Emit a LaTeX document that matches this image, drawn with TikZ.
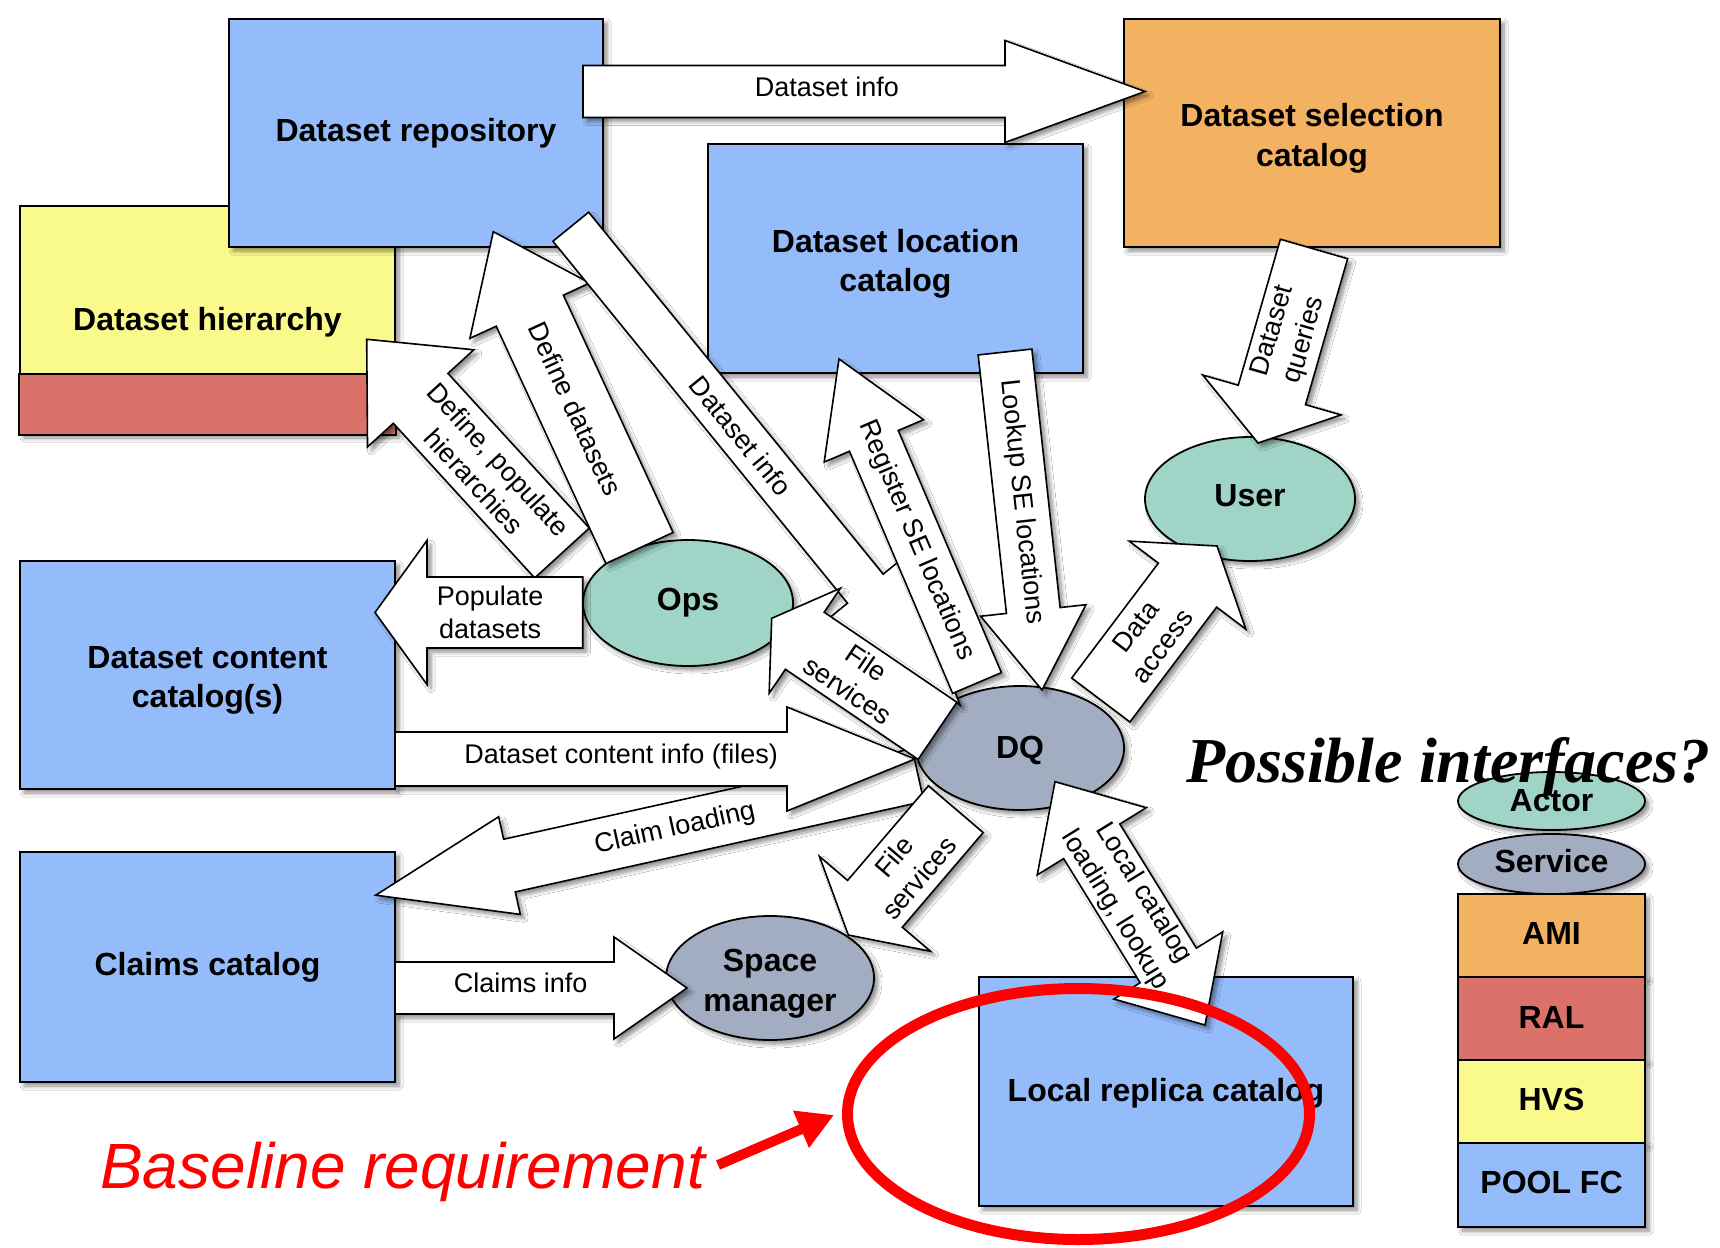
\documentclass[tikz,border=0pt]{standalone}
\usepackage{fontspec}
\setmainfont{Liberation Sans}
\newfontfamily\serifbi{Liberation Serif}
\usetikzlibrary{calc,shadows,shadows.blur,arrows.meta,shapes.geometric}

\definecolor{poolblue}{RGB}{148,187,250}
\definecolor{hvsyellow}{RGB}{250,250,140}
\definecolor{ralred}{RGB}{218,114,106}
\definecolor{amiorange}{RGB}{243,177,98}
\definecolor{actorteal}{RGB}{160,212,198}
\definecolor{servicegrey}{RGB}{163,173,194}

\tikzset{
  shad/.style={blur shadow={shadow xshift=4pt,shadow yshift=-4pt,shadow blur radius=4pt,shadow blur steps=6,shadow opacity=45}},
  box/.style={draw=black, line width=1.8pt, rectangle, inner sep=0pt, align=center,
    font=\fontsize{32}{39.5}\selectfont\bfseries, shad},
  oval/.style={draw=black, line width=1.8pt, ellipse, inner sep=0pt, align=center,
    font=\fontsize{32}{39.5}\selectfont\bfseries, shad},
  boxtext/.style={inner sep=0pt, align=center, font=\fontsize{32}{39.5}\selectfont\bfseries},
  arr/.style={draw=black, fill=white, line width=1.6pt, line join=miter, shad},
  lbl/.style={font=\fontsize{27}{33}\selectfont, align=center, inner sep=0pt, sloped},
}

% #1 tail, #2 tip, #3 shaft half width, #4 head half width, #5 head length, #6 name
\newcommand{\blockarrow}[6]{%
  \coordinate (#6-c) at ($(#2)!#5!(#1)$);
  \draw[arr] ($(#1)!#3!90:(#2)$) -- ($(#6-c)!#3!90:(#2)$) -- ($(#6-c)!#4!90:(#2)$)
    -- (#2) -- ($(#6-c)!#4!-90:(#2)$) -- ($(#6-c)!#3!-90:(#2)$)
    -- ($(#1)!#3!-90:(#2)$) -- cycle;
}
% #1 tip A, #2 tip B, #3 shaft half width, #4 head half width, #5 head length, #6 name
\newcommand{\dblarrow}[6]{%
  \coordinate (#6-ca) at ($(#1)!#5!(#2)$);
  \coordinate (#6-cb) at ($(#2)!#5!(#1)$);
  \draw[arr] (#1) -- ($(#6-ca)!#4!90:(#2)$) -- ($(#6-ca)!#3!90:(#2)$)
    -- ($(#6-cb)!#3!-90:(#1)$) -- ($(#6-cb)!#4!-90:(#1)$) -- (#2)
    -- ($(#6-cb)!#4!90:(#1)$) -- ($(#6-cb)!#3!90:(#1)$)
    -- ($(#6-ca)!#3!-90:(#2)$) -- ($(#6-ca)!#4!-90:(#2)$) -- cycle;
}

\begin{document}
\begin{tikzpicture}[x=1pt,y=-1pt]
\fill[white] (0,0) rectangle (1720,1247);
\useasboundingbox (0,0) rectangle (1720,1247);

% ---------- boxes ----------
\node[box, fill=hvsyellow, minimum width=375pt, minimum height=228pt] (hier) at (207.5,320) {};
\draw[line width=1.8pt, fill=ralred] ($(hier.south west)+(0,-61)$) rectangle (hier.south east);
\node[boxtext] (hiertext) at (207.5,322) {Dataset hierarchy};
\node[box, fill=poolblue, minimum width=374pt, minimum height=228pt] (repo) at (416,133) {Dataset repository};
\node[box, fill=amiorange, minimum width=376pt, minimum height=228pt] (sel) at (1312,133) {};
\node[boxtext] (seltext) at (1312,138.5) {Dataset selection\\catalog};
\node[box, fill=poolblue, minimum width=375pt, minimum height=229pt] (loc) at (895.5,258.5) {};
\node[boxtext] (loctext) at (895.5,264) {Dataset location\\catalog};
\node[box, fill=poolblue, minimum width=375pt, minimum height=228pt] (content) at (207.5,675) {};
\node[boxtext] (contenttext) at (207.5,680.5) {Dataset content\\catalog(s)};
\node[box, fill=poolblue, minimum width=375pt, minimum height=230pt] (claims) at (207.5,967) {Claims catalog};
\node[box, fill=poolblue, minimum width=374pt, minimum height=229pt] (lrc) at (1166,1091.5) {};
\node[boxtext] (lrctext) at (1166,1093.5) {Local replica catalog};

% ---------- ellipses ----------
\node[oval, fill=actorteal, minimum width=210pt, minimum height=126pt] (ops) at (688,603) {Ops};
\node[oval, fill=actorteal, minimum width=210pt, minimum height=124pt] (user) at (1250,499) {};
\node[boxtext] (usertext) at (1250,496) {User};
\node[oval, fill=servicegrey, minimum width=208pt, minimum height=124pt] (dq) at (1020,748) {};
\node[boxtext] (dqtext) at (1020,750) {DQ};
\node[oval, fill=servicegrey, minimum width=208pt, minimum height=124pt] (sm) at (770,978) {};
\node[boxtext] (smtext) at (770,983.5) {Space\\manager};

% ---------- arrow end points ----------
\coordinate (dit) at (583,91.5);     \coordinate (dip) at (1145,91.5);
\coordinate (dpt) at (562,553);      \coordinate (dpp) at (366.7,339.3);
\coordinate (ddt) at (639.5,548);    \coordinate (ddp) at (493.3,231.7);
\coordinate (dgt) at (570.8,226.7);  \coordinate (dgp) at (960,705);
\coordinate (pot) at (582.7,612.5);  \coordinate (pop) at (375,612.5);
\coordinate (rgt) at (977,683);      \coordinate (rgp) at (839,359);
\coordinate (lkt) at (1005,352);     \coordinate (lkp) at (1042,690);
\coordinate (clt) at (918,775);      \coordinate (clp) at (375.7,895.2);
\coordinate (cit) at (395,759);      \coordinate (cip) at (915,759);
\coordinate (fut) at (937.5,730.8);  \coordinate (fup) at (771.7,618.3);
\coordinate (flt) at (955.8,809.2);  \coordinate (flp) at (848.3,935);
\coordinate (dat) at (1100.8,700);   \coordinate (dap) at (1217,546);
\coordinate (lca) at (1055,781.7);   \coordinate (lcb) at (1205,1025);
\coordinate (qut) at (1314,249);     \coordinate (qup) at (1258,443);
\coordinate (cst) at (395,988);      \coordinate (csp) at (687,988);

% ---------- block arrows ----------
\blockarrow{dit}{dip}{26pt}{51pt}{140pt}{a1}
\path (dit) -- (dip) node[lbl, pos=0.434, yshift=5pt] (l1) {Dataset info};

\blockarrow{dpt}{dpp}{37pt}{72pt}{80pt}{a2}
\path (dpt) -- (dpp) node[lbl, pos=0.386] (l2) {Define, populate\\hierarchies};

\blockarrow{ddt}{ddp}{37pt}{66pt}{87pt}{a3}
\path (ddt) -- (ddp) node[lbl, pos=0.44] (l3) {Define datasets};

\blockarrow{dgt}{dgp}{23pt}{50pt}{150pt}{a4}
\path (dgt) -- (dgp) node[lbl, pos=0.437] (l4) {Dataset info};

\blockarrow{pot}{pop}{35.5pt}{72pt}{52pt}{a5}
\path (pot) -- (pop) node[lbl, pos=0.446] (l5) {Populate\\datasets};

\blockarrow{rgt}{rgp}{26.5pt}{54pt}{89pt}{a6}
\path (rgt) -- (rgp) node[lbl, pos=0.44] (l6) {Register SE locations};

\blockarrow{lkt}{lkp}{27pt}{53pt}{80pt}{a7}
\path (lkt) -- (lkp) node[lbl, pos=0.444] (l7) {Lookup SE locations};

\blockarrow{clt}{clp}{27pt}{50pt}{137pt}{a8}
\path (clt) -- (clp) node[lbl, pos=0.448] (l8) {Claim loading};

\blockarrow{cit}{cip}{27pt}{52pt}{128pt}{a9}
\path (cit) -- (cip) node[lbl, pos=0.435, yshift=2.5pt] (l9) {Dataset content info (files)};

\blockarrow{fut}{fup}{34.5pt}{63.5pt}{40pt}{a10}
\path (fut) -- (fup) node[lbl, pos=0.483] (l10) {File\\services};

\blockarrow{flt}{flp}{36pt}{73pt}{41pt}{a11}
\path (flt) -- (flp) node[lbl, pos=0.46] (l11) {File\\services};

\blockarrow{dat}{dap}{36.5pt}{73pt}{49pt}{a12}
\path (dat) -- (dap) node[lbl, pos=0.414] (l12) {Data\\access};

\dblarrow{lca}{lcb}{33pt}{64pt}{70pt}{a13}
\path (lca) -- (lcb) node[lbl, pos=0.494] (l13) {Local catalog\\loading, lookup};

\blockarrow{qut}{qup}{35pt}{72pt}{50pt}{a14}
\path (qut) -- (qup) node[lbl, pos=0.446] (l14) {Dataset\\queries};

\blockarrow{cst}{csp}{26pt}{51pt}{73pt}{a15}
\path (cst) -- (csp) node[lbl, pos=0.43, yshift=5pt] (l15) {Claims info};

% ---------- legend ----------
\node[oval, fill=actorteal, minimum width=187pt, minimum height=58pt] (lgactor) at (1551.5,801) {Actor};
\node[oval, fill=servicegrey, minimum width=187pt, minimum height=60pt] (lgservice) at (1551.5,864) {};
\node[boxtext] (lgservicetext) at (1551.5,861) {Service};
\node[box, fill=amiorange, minimum width=187pt, minimum height=83pt] (lgami) at (1551.5,935.5) {};
\node[boxtext] (lgamitext) at (1551.5,933.5) {AMI};
\node[box, fill=ralred, minimum width=187pt, minimum height=83pt] (lgral) at (1551.5,1018.5) {};
\node[boxtext] (lgraltext) at (1551.5,1017) {RAL};
\node[box, fill=hvsyellow, minimum width=187pt, minimum height=83pt] (lghvs) at (1551.5,1101.5) {};
\node[boxtext] (lghvstext) at (1551.5,1099.5) {HVS};
\node[box, fill=poolblue, minimum width=187pt, minimum height=84pt] (lgpool) at (1551.5,1185) {};
\node[boxtext] (lgpooltext) at (1551.5,1182) {POOL FC};

% ---------- annotations ----------
\node[anchor=base west, inner sep=0pt, font=\serifbi\bfseries\itshape\fontsize{64}{70}\selectfont] (possible) at (1186,782) {Possible interfaces?};
\node[anchor=base west, inner sep=0pt, text=red, font=\itshape\fontsize{64}{70}\selectfont] (baseline) at (100,1188) {Baseline requirement};
\coordinate (ra) at (718,1165);
\coordinate (rb) at (834,1115);
\draw[red, line width=10pt, -{Triangle[length=36pt,width=38pt]}] (ra) -- (rb);
\node[draw=red, line width=11pt, ellipse, minimum width=462pt, minimum height=251pt] (ring) at (1078.5,1114) {};
\end{tikzpicture}
\end{document}
